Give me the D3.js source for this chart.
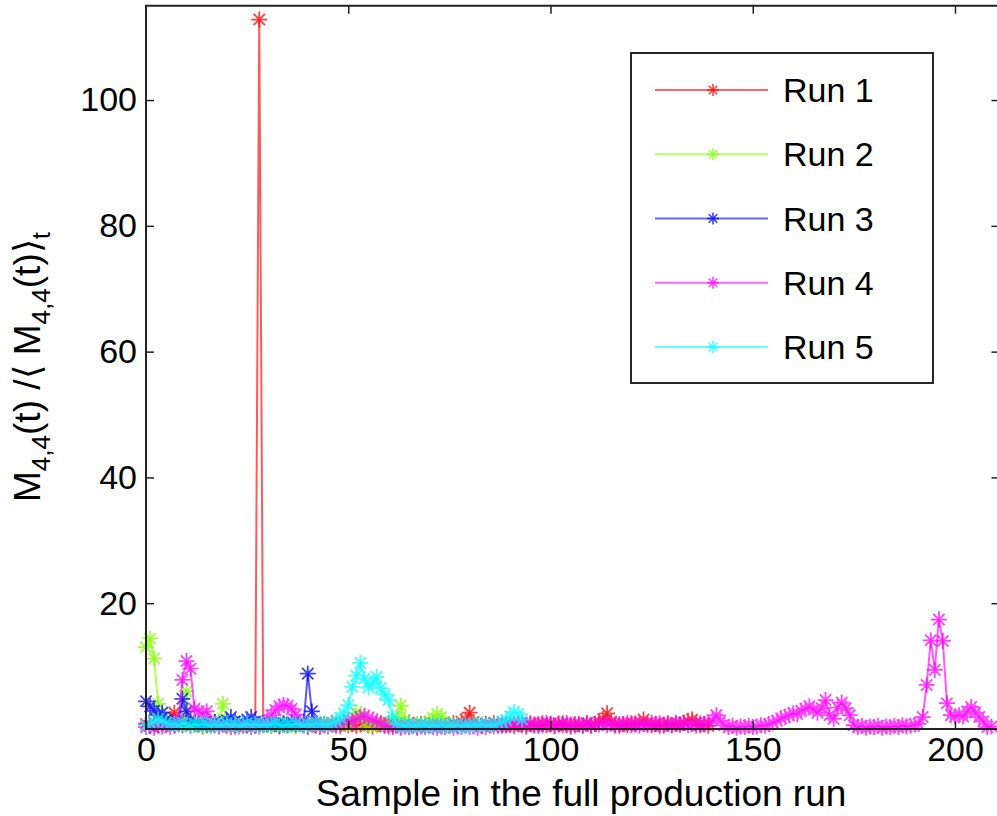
<!DOCTYPE html>
<html>
<head>
<meta charset="utf-8">
<script src="https://cdn.jsdelivr.net/npm/d3@7"></script>
<style>
  html, body { margin: 0; padding: 0; background: #fff; }
  svg { display: block; font-family: "Liberation Sans", Arial, Helvetica, sans-serif; }
</style>
</head>
<body>
<svg id="chart" width="997" height="816"></svg>
<script>
// ---------------- DATA ----------------
const seriesNames = ["Run 1", "Run 2", "Run 3", "Run 4", "Run 5"];
const seriesColors = ["#ff0000", "#80ff00", "#0000ff", "#ff00ff", "#00ffff"];
const xTicks = [0, 50, 100, 150, 200];
const yTicks = [20, 40, 60, 80, 100];

const run1 = [
  0.8, 0.5, 0.9, 0.6, 1.1, 0.7, 1.6, 2.6, 1.0, 0.6,
  0.9, 0.5, 0.7, 1.0, 0.4, 0.8, 0.6, 1.1, 0.5, 0.7,
  0.9, 0.6, 0.4, 0.8, 0.5, 0.7, 0.6, 0.5, 112.8, 0.6,
  0.8, 0.5, 0.9, 0.4, 0.7, 0.6, 1.0, 0.5, 0.8, 0.6,
  0.4, 0.9, 0.7, 0.5, 0.8, 0.6, 1.0, 0.7, 0.5, 0.9,
  0.6, 0.8, 0.5, 0.7, 0.9, 0.6, 0.4, 0.8, 0.7, 0.5,
  0.9, 0.6, 0.8, 0.5, 0.7, 1.0, 0.6, 0.4, 0.8, 0.7,
  0.5, 0.9, 0.6, 0.8, 0.5, 0.7, 0.9, 0.6, 1.2, 1.5,
  2.6, 1.1, 0.7, 0.5, 0.8, 0.6, 0.9, 0.5, 0.7, 0.6,
  0.8, 0.5, 0.9, 0.6, 0.4, 0.8, 0.7, 0.5, 0.9, 0.6,
  0.8, 0.5, 0.7, 0.9, 0.6, 0.4, 0.8, 0.7, 0.5, 0.9,
  0.6, 0.8, 1.1, 1.6, 2.5, 1.2, 0.7, 0.5, 0.8, 0.6,
  0.9, 0.7, 1.0, 1.5, 0.9, 0.6, 0.8, 0.5, 0.7, 0.9,
  0.6, 0.8, 0.7, 1.0, 1.3, 1.5, 0.9, 0.6, 0.8, 0.5
];
const run2 = [
  13.0, 14.4, 11.2, 4.0, 1.2, 0.8, 1.0, 0.6, 0.9, 1.6,
  6.0, 1.1, 0.7, 0.9, 0.5, 0.8, 0.6, 1.0, 1.3, 4.0,
  1.2, 0.7, 0.5, 0.9, 0.6, 0.8, 0.5, 0.7, 0.9, 0.6,
  0.8, 0.5, 0.7, 0.6, 0.9, 0.5, 0.8, 0.6, 0.7, 0.9,
  0.5, 0.8, 0.6, 0.9, 0.7, 0.5, 0.8, 0.6, 0.9, 0.7,
  0.8, 1.2, 2.6, 2.4, 1.0, 0.6, 0.8, 0.5, 0.9, 0.7,
  0.6, 1.0, 1.8, 3.7, 1.5, 0.7, 0.5, 0.8, 0.6, 0.9,
  1.2, 1.8, 2.4, 1.9, 0.8, 0.6
];
const run3 = [
  4.4, 3.6, 2.9, 2.2, 2.6, 1.5, 1.0, 0.8, 1.2, 4.8,
  2.8, 1.3, 0.9, 0.7, 1.0, 0.6, 0.8, 1.1, 0.7, 0.9,
  1.4, 1.9, 1.2, 0.8, 1.0, 1.5, 1.9, 1.1, 0.8, 0.9,
  0.7, 1.0, 0.8, 0.6, 0.9, 0.7, 1.0, 0.8, 0.9, 1.2,
  8.8, 2.8, 1.0
];
const run4 = [
  0.3, 0.5, 0.2, 0.6, 0.4, 0.7, 0.3, 0.5, 1.5, 7.8,
  10.8, 9.6, 3.2, 2.8, 2.4, 2.8, 1.2, 0.6, 0.4, 0.7,
  0.5, 0.3, 0.6, 0.4, 0.7, 0.5, 0.3, 0.6, 0.4, 0.8,
  1.3, 2.2, 3.0, 3.6, 3.8, 3.7, 3.2, 2.3, 1.2, 0.6,
  0.4, 0.7, 0.5, 0.3, 0.6, 0.4, 0.7, 0.5, 0.8, 1.1,
  1.4, 1.2, 1.6, 1.9, 2.1, 1.8, 1.5, 1.2, 0.9, 0.6,
  0.4, 0.3, 0.5, 0.2, 0.4, 0.3, 0.5, 0.2, 0.4, 0.3,
  0.5, 0.3, 0.2, 0.4, 0.3, 0.5, 0.2, 0.4, 0.3, 0.5,
  0.3, 0.4, 0.2, 0.5, 0.3, 0.6, 0.4, 0.7, 0.5, 0.8,
  0.6, 0.9, 0.7, 1.0, 0.6, 0.9, 0.5, 0.8, 0.6, 1.0,
  0.7, 0.5, 0.9, 0.6, 1.0, 0.7, 0.5, 0.8, 0.6, 0.9,
  0.5, 0.8, 0.7, 1.0, 0.6, 0.9, 0.5, 0.8, 0.7, 1.0,
  0.6, 0.9, 0.5, 0.8, 0.6, 1.0, 0.7, 0.9, 0.5, 0.8,
  0.6, 1.0, 0.7, 0.9, 0.6, 0.8, 0.5, 0.9, 0.7, 1.0,
  1.4, 2.2, 1.3, 0.6, 0.3, 0.5, 0.2, 0.4, 0.3, 0.5,
  0.3, 0.4, 0.6, 0.5, 0.8, 1.0, 1.3, 1.7, 1.9, 2.2,
  2.5, 2.4, 2.9, 3.2, 3.6, 3.1, 2.6, 3.3, 4.6, 2.2,
  1.6, 3.4, 4.2, 3.3, 2.2, 0.6, 0.3, 0.5, 0.2, 0.4,
  0.3, 0.5, 0.2, 0.4, 0.3, 0.5, 0.3, 0.6, 0.4, 0.5,
  0.7, 0.8, 1.9, 7.0, 14.1, 9.4, 17.4, 14.0, 4.1, 2.2,
  2.0, 2.2, 2.0, 2.8, 3.5, 2.6, 1.9, 1.2, 0.3, 0.4
];
const run5 = [
  0.6, 0.9, 1.2, 1.5, 1.3, 1.0, 0.7, 0.8, 0.6, 0.9,
  0.7, 0.5, 0.8, 0.6, 0.9, 0.7, 0.5, 0.8, 0.6, 0.7,
  0.9, 0.6, 0.8, 0.5, 0.7, 0.9, 0.6, 0.8, 0.5, 0.7,
  0.6, 0.8, 0.9, 0.7, 0.5, 0.8, 0.6, 0.9, 0.7, 0.5,
  0.8, 0.6, 0.9, 0.7, 0.8, 0.6, 0.9, 1.2, 1.8, 2.5,
  3.8, 6.7, 8.5, 10.5, 8.0, 6.6, 7.3, 8.3, 6.5, 5.5,
  4.6, 1.9, 0.8, 0.6, 0.5, 0.7, 0.4, 0.6, 0.5, 0.7,
  0.4, 0.6, 0.5, 0.7, 0.4, 0.6, 0.5, 0.7, 0.4, 0.6,
  0.5, 0.7, 0.6, 0.8, 0.5, 0.7, 0.6, 0.9, 1.1, 1.4,
  2.0, 2.7, 2.4, 1.5
];
const seriesValues = [run1, run2, run3, run4, run5];

// ---------------- CHART ----------------
const svg = d3.select("#chart");
const x = d3.scaleLinear().domain([0, 211]).range([146, 999.5]);
const y = d3.scaleLinear().domain([0, 115]).range([729, 5.7]);

const FONT = 34;
const LABEL_FONT = 37;
const MARK = 8;     // half-size of the asterisk marker
const LW = 2;

function asteriskPath(cx, cy, r) {
  const d = r * Math.SQRT1_2;
  return `M${cx - r},${cy}L${cx + r},${cy}M${cx},${cy - r}L${cx},${cy + r}` +
         `M${cx - d},${cy - d}L${cx + d},${cy + d}M${cx - d},${cy + d}L${cx + d},${cy - d}`;
}

const line = d3.line().x((d, i) => x(i)).y(d => y(d));
const dataG = svg.append("g");
seriesValues.forEach((vals, k) => {
  const g = dataG.append("g");
  g.append("path")
    .attr("d", line(vals))
    .attr("fill", "none")
    .attr("stroke", seriesColors[k])
    .attr("stroke-opacity", 0.65)
    .attr("stroke-width", LW)
    .attr("stroke-linejoin", "round");
  g.append("path")
    .attr("d", vals.map((v, i) => asteriskPath(x(i), y(v), MARK)).join(""))
    .attr("fill", "none")
    .attr("stroke", seriesColors[k])
    .attr("stroke-opacity", 0.75)
    .attr("stroke-width", 1.8);
});

// Axes box
const x0 = x.range()[0], x1 = x.range()[1], yb = y.range()[0], yt = y.range()[1];
const axisColor = "#222";
svg.append("path")
  .attr("d", `M${x1},${yt}L${x0},${yt}L${x0},${yb}L${x1},${yb}`)
  .attr("fill", "none").attr("stroke", axisColor).attr("stroke-width", 2);
svg.append("line").attr("x1", x1).attr("x2", x1).attr("y1", yt).attr("y2", yb)
  .attr("stroke", axisColor).attr("stroke-width", 2);

// bottom axis
const xAxis = d3.axisBottom(x).tickValues(xTicks).tickSizeInner(-8).tickSizeOuter(0).tickPadding(8);
const gx = svg.append("g").attr("transform", `translate(0,${yb})`).call(xAxis);
gx.select(".domain").remove();
gx.selectAll("line").attr("stroke", axisColor).attr("stroke-width", 1.5);
gx.selectAll("text").attr("font-size", FONT).attr("fill", "#000").attr("font-family", "Liberation Sans, Arial, sans-serif");

// top ticks
const xAxisTop = d3.axisTop(x).tickValues(xTicks.filter(v => v > 0)).tickSizeInner(-8).tickSizeOuter(0).tickFormat("");
const gxt = svg.append("g").attr("transform", `translate(0,${yt})`).call(xAxisTop);
gxt.select(".domain").remove();
gxt.selectAll("line").attr("stroke", axisColor).attr("stroke-width", 1.5);

// left axis
const yAxis = d3.axisLeft(y).tickValues(yTicks).tickSizeInner(-8).tickSizeOuter(0).tickPadding(9);
const gy = svg.append("g").attr("transform", `translate(${x0},0)`).call(yAxis);
gy.select(".domain").remove();
gy.selectAll("line").attr("stroke", axisColor).attr("stroke-width", 1.5);
gy.selectAll("text").attr("font-size", FONT).attr("fill", "#000").attr("font-family", "Liberation Sans, Arial, sans-serif");

// right ticks
const yAxisR = d3.axisRight(y).tickValues(yTicks).tickSizeInner(-8).tickSizeOuter(0).tickFormat("");
const gyr = svg.append("g").attr("transform", `translate(${x1},0)`).call(yAxisR);
gyr.select(".domain").remove();
gyr.selectAll("line").attr("stroke", axisColor).attr("stroke-width", 1.5);

// x label
svg.append("text")
  .attr("x", 581).attr("y", 806)
  .attr("text-anchor", "middle")
  .attr("font-size", LABEL_FONT)
  .attr("fill", "#000")
  .text("Sample in the full production run");

// y label
const yl = svg.append("text")
  .attr("transform", "translate(40,367) rotate(-90)")
  .attr("text-anchor", "middle")
  .attr("font-size", LABEL_FONT)
  .attr("fill", "#000");
const SUB = 26, SH = 10;
yl.append("tspan").text("M");
yl.append("tspan").attr("font-size", SUB).attr("dy", SH).text("4,4");
yl.append("tspan").attr("dy", -SH).text("(t) /\u27E8 M");
yl.append("tspan").attr("font-size", SUB).attr("dy", SH).text("4,4");
yl.append("tspan").attr("dy", -SH).text("(t)\u27E9");
yl.append("tspan").attr("font-size", SUB).attr("dy", SH).text("t");

// legend
const lg = svg.append("g");
lg.append("rect")
  .attr("x", 631).attr("y", 53).attr("width", 302).attr("height", 330)
  .attr("fill", "#fff").attr("stroke", "#111").attr("stroke-width", 1.8);
const legRows = d3.scaleLinear().domain([0, 4]).range([90, 347]);
seriesNames.forEach((name, k) => {
  const yy = legRows(k);
  lg.append("line").attr("x1", 655).attr("x2", 768).attr("y1", yy).attr("y2", yy)
    .attr("stroke", seriesColors[k]).attr("stroke-opacity", 0.6).attr("stroke-width", LW);
  lg.append("path").attr("d", asteriskPath(713, yy, 6))
    .attr("fill", "none").attr("stroke", seriesColors[k]).attr("stroke-opacity", 0.75).attr("stroke-width", 1.6);
  lg.append("text").attr("x", 783).attr("y", yy).attr("dy", "0.36em")
    .attr("font-size", FONT).attr("fill", "#000").text(name);
});
</script>
</body>
</html>
